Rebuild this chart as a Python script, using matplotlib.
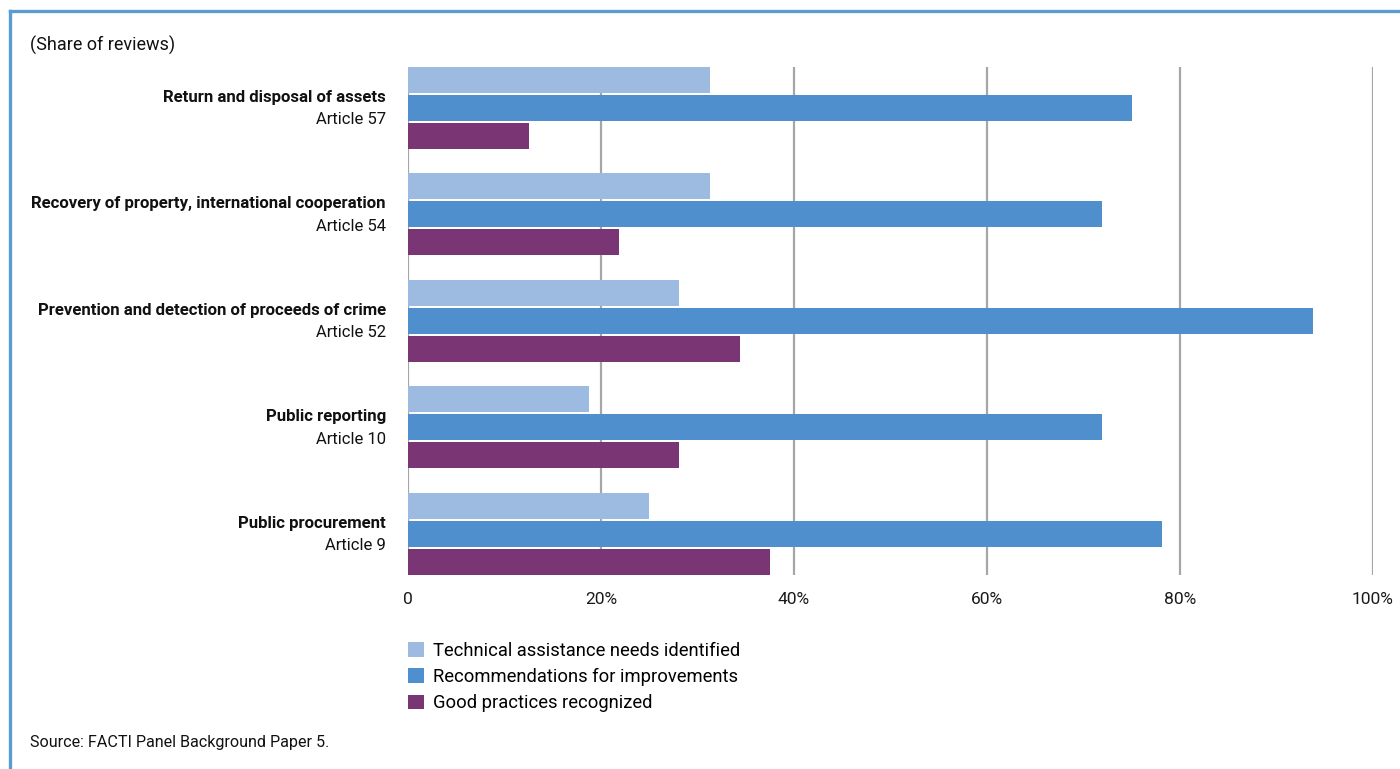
import numpy as np
import matplotlib.pyplot as plt
from matplotlib.lines import Line2D
from matplotlib.patches import Patch
from matplotlib.transforms import blended_transform_factory

plt.rcParams["font.family"] = ["Roboto", "DejaVu Sans"]

# top to bottom as in the picture
categories = [
    "Return and disposal of assets",
    "Recovery of property, international cooperation",
    "Prevention and detection of proceeds of crime",
    "Public reporting",
    "Public procurement",
]
articles = ["Article 57", "Article 54", "Article 52", "Article 10", "Article 9"]
technical = [31.25, 31.25, 28.125, 18.75, 25.0]
recommend = [75.0, 71.875, 93.75, 71.875, 78.125]
good = [12.5, 21.875, 34.375, 28.125, 37.5]
series_names = [
    "Technical assistance needs identified",
    "Recommendations for improvements",
    "Good practices recognized",
]
colors = ["#9dbbe1", "#4f8fcd", "#7a3674"]
xticks = [0, 20, 40, 60, 80, 100]
xticklabels = ["0", "20%", "40%", "60%", "80%", "100%"]

fig = plt.figure(figsize=(14, 7.69), dpi=100)
ax = fig.add_axes([0.2914, 0.2523, 0.6893, 0.6606])

n = len(categories)
pos = np.arange(n)[::-1]  # first category at top
step = 0.263
h = 0.244
for vals, off, c in zip([technical, recommend, good], [step, 0, -step], colors):
    ax.barh(pos + off, vals, height=h, color=c, zorder=2)

ax.set_xlim(0, 100)
ax.set_ylim(-0.385, n - 1 + 0.385)
ax.set_xticks(xticks, labels=xticklabels, fontsize=12.5)
ax.set_yticks([])
ax.tick_params(axis="x", length=0, pad=12, colors="#1a1a1a")
for s in ax.spines.values():
    s.set_visible(False)
for x in xticks:
    ax.axvline(x, color="#a6a6a6", lw=1.6, zorder=1)

tr = blended_transform_factory(ax.transAxes, ax.transData)
for p, cat, art in zip(pos, categories, articles):
    ax.text(-0.0228, p + 0.1, cat, transform=tr, ha="right", va="center",
            fontsize=12.1, fontweight="bold", color="#111111")
    ax.text(-0.0228, p - 0.11, art, transform=tr, ha="right", va="center",
            fontsize=12, color="#111111")

handles = [Patch(facecolor=c, edgecolor="none") for c in colors]
fig.legend(handles, series_names, loc="upper left", bbox_to_anchor=(0.2914, 0.1655),
           frameon=False, fontsize=13.2, handlelength=0.87, handleheight=0.87,
           handletextpad=0.5, labelspacing=0.45, borderaxespad=0, borderpad=0)

fig.text(30 / 1400, 1 - 45 / 769, "(Share of reviews)", fontsize=13,
         ha="left", va="center", color="#111111")
fig.text(30 / 1400, 1 - 742 / 769, "Source: FACTI Panel Background Paper 5.",
         fontsize=11.6, ha="left", va="center", color="#111111")

# blue frame on top and left edges
fig.add_artist(Line2D([9.5 / 1400, 1], [1 - 10.5 / 769] * 2, transform=fig.transFigure,
                      color="#5b9bd5", lw=2.4))
fig.add_artist(Line2D([9.5 / 1400] * 2, [0, 1 - 10.5 / 769], transform=fig.transFigure,
                      color="#5b9bd5", lw=2.4))

fig.savefig("out.png", dpi=100)
